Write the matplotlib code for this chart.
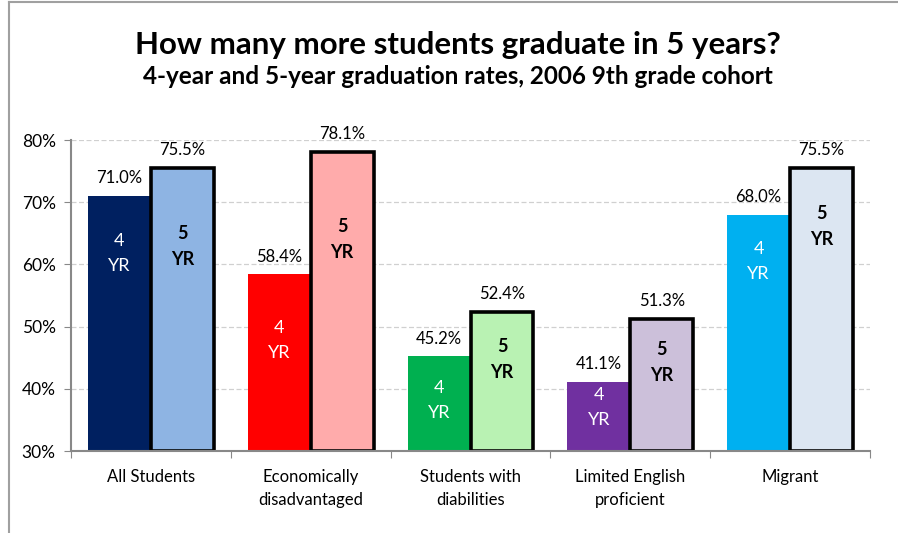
import numpy as np
import matplotlib
matplotlib.use('Agg')
from matplotlib import pyplot as plt
from matplotlib.lines import Line2D
from matplotlib.transforms import ScaledTranslation

plt.rcParams['font.family'] = ['Lato', 'DejaVu Sans']

categories = ['All Students', 'Economically\ndisadvantaged', 'Students with\ndiabilities',
              'Limited English\nproficient', 'Migrant']
rate_4yr = [71.0, 58.4, 45.2, 41.1, 68.0]
rate_5yr = [75.5, 78.1, 52.4, 51.3, 75.5]
colors_4yr = ['#002060', '#FF0000', '#00B050', '#7030A0', '#00B0F0']
colors_5yr = ['#8EB4E3', '#FFABAB', '#B9F2B3', '#CCC0DA', '#DCE6F2']
# where the "4 YR" / "5 YR" text sits inside each bar (centre of the digit)
inner_4yr = [63.9, 49.9, 40.3, 39.2, 62.6]
inner_5yr = [65.2, 66.3, 47.0, 46.6, 68.4]

fig = plt.figure(figsize=(8.98, 5.33), dpi=100)
ax = fig.add_axes([0.0791, 0.1538, 0.8897, 0.5835])

x = np.arange(len(categories))
w = 0.394
base = 30
ax.bar(x - w/2, np.array(rate_4yr) - base, w, bottom=base, color=colors_4yr, zorder=2)
ax.bar(x + w/2, np.array(rate_5yr) - base, w, bottom=base, color=colors_5yr,
       edgecolor='black', linewidth=2.6, zorder=3)

up = ax.transData + ScaledTranslation(0, 5/72, fig.dpi_scale_trans)
for i in range(len(categories)):
    ax.annotate('%.1f%%' % rate_4yr[i], (x[i] - w/2, rate_4yr[i]), xytext=(0, 7),
                textcoords='offset points', ha='center', va='bottom', fontsize=12)
    ax.annotate('%.1f%%' % rate_5yr[i], (x[i] + w/2, rate_5yr[i]), xytext=(0, 7),
                textcoords='offset points', ha='center', va='bottom', fontsize=12)
    ax.text(x[i] - w/2, inner_4yr[i], '4\nYR', ha='center', va='top', color='white',
            fontsize=13, linespacing=1.7, zorder=4, transform=up)
    ax.text(x[i] + w/2, inner_5yr[i], '5\nYR', ha='center', va='top', color='black',
            fontsize=13, fontweight='bold', linespacing=1.65, zorder=4, transform=up)

ax.set_xlim(-0.5, len(categories) - 0.5)
ax.set_ylim(30, 80)
ax.set_yticks(range(30, 81, 10))
ax.set_yticklabels(['%d%%' % v for v in range(30, 81, 10)], fontsize=12.5)
ax.set_xticks(np.arange(-0.5, len(categories), 1))
ax.set_xticklabels([])
ax.set_xticks(x, minor=True)
ax.set_xticklabels(categories, minor=True, fontsize=12, linespacing=1.5)
ax.tick_params(axis='x', which='minor', length=0, pad=13)
ax.tick_params(axis='x', which='major', length=5, color='#888888', direction='out')
ax.tick_params(axis='y', length=5, color='#888888', direction='out', pad=6)
ax.yaxis.grid(True, linestyle=(0, (4, 2)), color='#D0D0D0', linewidth=0.9, zorder=0)
ax.set_axisbelow(True)
for s in ['top', 'right']:
    ax.spines[s].set_visible(False)
for s in ['left', 'bottom']:
    ax.spines[s].set_color('#888888')
    ax.spines[s].set_linewidth(1.5)
    ax.spines[s].set_zorder(5)

fig.text(0.51, 0.915, 'How many more students graduate in 5 years?', ha='center', va='center',
         fontsize=22.5, fontweight='bold')
fig.text(0.51, 0.856, '4-year and 5-year graduation rates, 2006 9th grade cohort', ha='center',
         va='center', fontsize=17.5, fontweight='bold')

# chart frame
fig.add_artist(Line2D([0.010, 1.0], [0.996, 0.996], color='#A0A0A0', linewidth=1.5))
fig.add_artist(Line2D([0.010, 0.010], [0.0, 0.996], color='#A0A0A0', linewidth=1.5))

fig.savefig('out.png', dpi=100)
